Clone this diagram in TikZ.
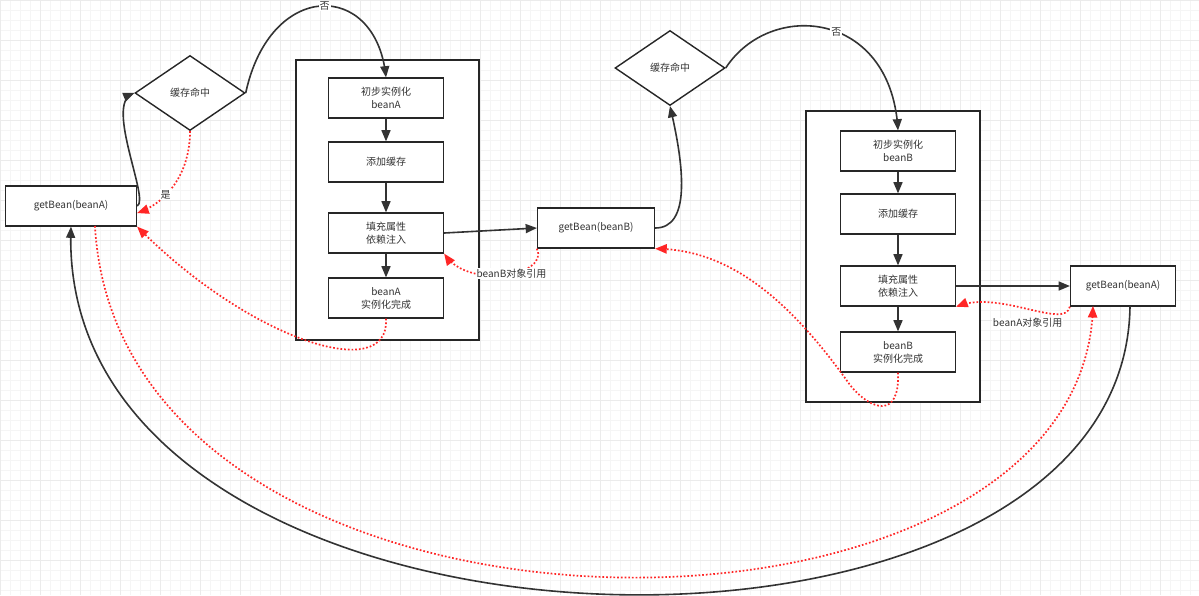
\documentclass[tikz,border=0pt]{standalone}
\usepackage{fontspec}
\setmainfont{Noto Sans CJK SC}
\usetikzlibrary{shapes, arrows}
\begin{document}
\begin{tikzpicture}[x=1pt,y=-1pt,font=\fontsize{10}{13}\selectfont,
    box/.style={draw=black!85,line width=1.4pt,fill=white,text=black!80,minimum width=115pt,minimum height=40pt,align=center,inner sep=1pt},
    dia/.style={draw=black!85,line width=1.4pt,fill=white,text=black!80,diamond,aspect=1.47,minimum width=110pt,minimum height=75pt,inner sep=0pt},
    frame/.style={draw=black!85,line width=1.4pt,fill=white},
    flow/.style={-triangle 45,line width=1.6pt,black!80},
    ref/.style={-triangle 45,red!85,dotted,line width=1.7pt},
    lbl/.style={fill=white,text=black!80,inner sep=1pt}]
        \useasboundingbox (0,0) rectangle (1199,595);
        \fill[white] (0,0) rectangle (1199,595);
        \draw[black!4] (0,0) grid[step=10pt] (1199,595);
        \draw[black!8] (0,0) grid[step=40pt] (1199,595);
        
        % first bean
        \draw[frame] (296,60) rectangle (479,340);
        \node[box] (initA) at (386,98) {初步实例化\\beanA};
        \node[box] (addA) at (386,162) {添加缓存};
        \node[box] (fillA) at (386,233) {填充属性\\依赖注入};
        \node[box] (doneA) at (386,298) {beanA\\实例化完成};
        \node[box,minimum width=131pt] (getA) at (71,206) {getBean(beanA)};
        \node[dia] (hitA) at (190,93) {缓存命中};
        
        % second bean
        \draw[frame] (806,111) rectangle (980,402);
        \node[box] (initB) at (898,151) {初步实例化\\beanB};
        \node[box] (addB) at (898,214) {添加缓存};
        \node[box] (fillB) at (898,286) {填充属性\\依赖注入};
        \node[box] (doneB) at (898,352) {beanB\\实例化完成};
        \node[box,minimum width=117pt] (getB) at (596,228) {getBean(beanB)};
        \node[dia] (hitB) at (670,68) {缓存命中};
        \node[box,minimum width=105pt] (getA2) at (1123,286) {getBean(beanA)};
        
        \draw[flow] (initA) -- (addA); \draw[flow] (addA) -- (fillA); \draw[flow] (fillA) -- (doneA);
        \draw[flow] (initB) -- (addB); \draw[flow] (addB) -- (fillB); \draw[flow] (fillB) -- (doneB);
        
        \draw[flow] (getA.east) .. controls (150,200) and (105,105) .. (hitA.west);
        \draw[flow] (hitA.east) .. controls (270,-20) and (375,-20) .. node[lbl,pos=0.52]{否} (initA.north);
        \draw[ref] (hitA.south) .. controls (190,180) and (160,205) .. node[lbl,pos=0.6]{是} (getA.east |- 0,213);
        \draw[flow] (fillA.east) -- (getB.west);
        \draw[ref] (getB.south west) .. controls (550,275) and (470,290) .. node[lbl,pos=0.45]{beanB对象引用} (fillA.south east);
        \draw[ref] (doneA.south) .. controls (390,385) and (250,340) .. (getA.south east);
        
        \draw[flow] (getB.east) .. controls (690,228) and (685,170) .. (hitB.south);
        \draw[flow] (hitB.east) .. controls (770,0) and (890,10) .. node[lbl,pos=0.55]{否} (initB.north);
        \draw[flow] (fillB.east) -- (getA2.west);
        \draw[ref] (getA2.south west) .. controls (1065,330) and (1000,290) .. node[lbl,pos=0.5,yshift=-14pt]{beanA对象引用} (fillB.south east);
        \draw[ref] (doneB.south) .. controls (900,420) and (870,410) .. (850,385) .. controls (790,300) and (730,250) .. (getB.south east);
        
        \draw[ref] (95,226) .. controls (120,680) and (1080,680) .. (1093,306);
        \draw[flow] (1130,306) .. controls (1125,715) and (55,690) .. (getA.south);
    \end{tikzpicture}
\end{document}
